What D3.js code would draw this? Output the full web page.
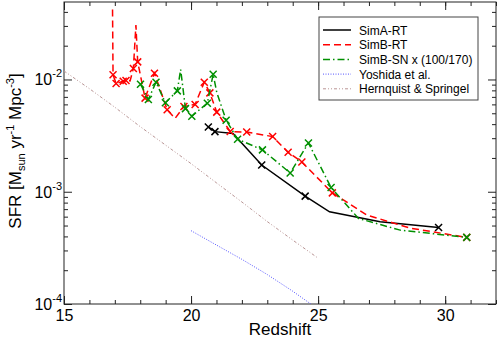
<!DOCTYPE html>
<html>
<head>
<meta charset="utf-8">
<script src="https://cdn.jsdelivr.net/npm/d3@7"></script>
<style>
  body { margin: 0; background: #fff; }
  text { font-family: "Liberation Sans", Arial, sans-serif; }
</style>
</head>
<body>
<div id="plot"></div>
<script>
// values
var simA_z   = [20.68, 20.94, 21.65, 22.78, 24.49, 25.45, 27.44, 29.74];
var simA_sfr = [0.00378, 0.00343, 0.0033, 0.00173, 0.000914, 0.000662, 0.00054, 0.000481];
var simA_mark = [1, 1, 0, 1, 1, 0, 0, 1];

var simBRT_z   = [16.91, 16.93, 17.05, 17.33, 17.44, 17.6, 17.73, 17.83, 17.9, 18.19, 18.56, 19.06, 19.37,
                  19.72, 20.16, 20.52, 20.74, 21.01, 21.54, 22.19, 23.21, 23.82, 24.36, 25.56, 26.92, 28.62, 30.85];
var simBRT_sfr = [0.042, 0.0110, 0.0092, 0.00966, 0.0098, 0.0097, 0.01254, 0.0305, 0.01435, 0.00682, 0.01138, 0.00538, 0.0045,
                  0.00575, 0.00599, 0.00946, 0.0076, 0.00512, 0.00344, 0.0034, 0.0031, 0.00225, 0.00184, 0.000977, 0.00062, 0.000474, 0.000392];
var simBRT_mark = [0, 1, 1, 1, 1, 0, 1, 0, 1, 1, 1, 1, 0, 1, 1, 1, 1, 1, 1, 1, 1, 1, 1, 1, 0, 0, 1];

var simBSN_z   = [18.01, 18.32, 18.62, 18.99, 19.46, 19.59, 19.78, 20.03, 20.64, 20.87, 21.01, 21.38, 21.83,
                  22.81, 23.9, 24.62, 25.51, 26.59, 28.23, 30.85];
var simBSN_sfr = [0.00908, 0.00664, 0.00946, 0.0062, 0.00792, 0.01228, 0.0055, 0.00471, 0.00615, 0.01114, 0.0077, 0.00434, 0.00294,
                  0.00236, 0.00147, 0.00272, 0.00109, 0.000578, 0.000455, 0.000392];
var simBSN_mark = [1, 1, 1, 1, 1, 0, 1, 1, 1, 1, 0, 1, 1, 1, 1, 1, 1, 0, 0, 1];

var yoshida_z   = [20, 21, 22, 23, 24, 25];
var yoshida_sfr = [4.5e-4, 3.35e-4, 2.5e-4, 1.83e-4, 1.3e-4, 9.0e-5];

var hs_z   = [15, 16, 17, 18, 19, 20, 21, 22, 23, 24, 25];
var hs_sfr = [0.0119, 0.00828, 0.00566, 0.0038, 0.0026, 0.00178, 0.0012, 0.00081, 0.000542, 0.000371, 0.000256];

var xTicks = [15, 20, 25, 30];
var xMinor = d3.range(15, 33, 1);
var yExp = [-4, -3, -2];
var legendNames = ["SimA-RT", "SimB-RT", "SimB-SN x (100/170)", "Yoshida et al.", "Hernquist & Springel"];

// set the dimensions and margins of the graph
var margin = {top: 2, right: 2, bottom: 35, left: 64},
    width = 498 - margin.left - margin.right,
    height = 339 - margin.top - margin.bottom - 0;
height = 302;

var svg = d3.select("#plot")
  .append("svg")
    .attr("width", 498)
    .attr("height", 339)
  .append("g")
    .attr("transform", "translate(" + margin.left + "," + margin.top + ")");

var x = d3.scaleLinear().domain([15, 32]).range([0, width]);
var y = d3.scaleLog().domain([1e-4, 0.049]).range([height, 0]);

var yMinor = [];
[1e-4, 1e-3, 1e-2].forEach(function(d) {
  for (var k = 2; k <= 9; k++) if (d * k <= 0.049) yMinor.push(d * k);
});

// ticks, all pointing inward
function tickStyle(g) {
  g.select(".domain").remove();
  g.selectAll(".tick line").attr("stroke", "#222").attr("stroke-width", 1);
}
svg.append("g").attr("transform", "translate(0," + height + ")")
  .call(d3.axisBottom(x).tickValues(xMinor).tickSize(-4).tickFormat("")).call(tickStyle);
svg.append("g").attr("transform", "translate(0," + height + ")")
  .call(d3.axisBottom(x).tickValues(xTicks).tickSize(-8).tickPadding(6).tickFormat(d3.format("d")))
  .call(tickStyle)
  .selectAll("text").attr("font-size", 16).attr("fill", "#000");
svg.append("g")
  .call(d3.axisTop(x).tickValues(xMinor).tickSize(-4).tickFormat("")).call(tickStyle);
svg.append("g")
  .call(d3.axisTop(x).tickValues(xTicks).tickSize(-8).tickFormat("")).call(tickStyle);

svg.append("g").call(d3.axisLeft(y).tickValues(yMinor).tickSize(-4).tickFormat("")).call(tickStyle);
svg.append("g").call(d3.axisLeft(y).tickValues([1e-4, 1e-3, 1e-2]).tickSize(-8).tickFormat("")).call(tickStyle);
svg.append("g").attr("transform", "translate(" + width + ",0)")
  .call(d3.axisRight(y).tickValues(yMinor).tickSize(-4).tickFormat("")).call(tickStyle);
svg.append("g").attr("transform", "translate(" + width + ",0)")
  .call(d3.axisRight(y).tickValues([1e-4, 1e-3, 1e-2]).tickSize(-8).tickFormat("")).call(tickStyle);

// y tick labels 10^n
yExp.forEach(function(e) {
  var t = svg.append("text")
    .attr("x", -2)
    .attr("y", y(Math.pow(10, e)) + 6)
    .attr("text-anchor", "end")
    .attr("font-size", 16);
  t.append("tspan").text("10");
  t.append("tspan").attr("dy", -8).attr("font-size", 11).text(String(e));
});

// frame
svg.append("rect")
  .attr("width", width).attr("height", height)
  .attr("fill", "none").attr("stroke", "#222").attr("stroke-width", 1);

// axis titles
svg.append("text")
  .attr("x", width / 2).attr("y", height + 31)
  .attr("text-anchor", "middle").attr("font-size", 17)
  .text("Redshift");

var yl = svg.append("text")
  .attr("transform", "translate(" + (21 - margin.left) + "," + (height / 2 - 2) + ") rotate(-90)")
  .attr("text-anchor", "middle").attr("font-size", 17);
yl.append("tspan").text("SFR [M");
yl.append("tspan").attr("font-size", 11).attr("dy", 4).text("sun");
yl.append("tspan").attr("dy", -4).text(" yr");
yl.append("tspan").attr("font-size", 11).attr("dy", -7).text("-1");
yl.append("tspan").attr("dy", 7).text(" Mpc");
yl.append("tspan").attr("font-size", 11).attr("dy", -7).text("-3");
yl.append("tspan").attr("dy", 7).text("]");

// clip the curves to the plot box
svg.append("clipPath").attr("id", "clip")
  .append("rect").attr("width", width).attr("height", height);
var plot = svg.append("g").attr("clip-path", "url(#clip)");

var line = d3.line()
  .x(function(d) { return x(d[0]); })
  .y(function(d) { return y(d[1]); });

function pairs(zs, vs) {
  return zs.map(function(z, i) { return [z, vs[i]]; });
}

var series = [
  {z: hs_z, v: hs_sfr, color: "#b99595", dash: "3,2,1,2,1,2", w: 1},
  {z: yoshida_z, v: yoshida_sfr, color: "#5555ff", dash: "1,1.5", w: 1},
  {z: simA_z, v: simA_sfr, mark: simA_mark, color: "#000", dash: null, w: 1.5},
  {z: simBRT_z, v: simBRT_sfr, mark: simBRT_mark, color: "#ff0000", dash: "7,4", w: 1.5},
  {z: simBSN_z, v: simBSN_sfr, mark: simBSN_mark, color: "#009000", dash: "7,3,1.5,3", w: 1.5}
];

series.forEach(function(s) {
  plot.append("path")
    .datum(pairs(s.z, s.v))
    .attr("fill", "none")
    .attr("stroke", s.color)
    .attr("stroke-width", s.w)
    .attr("stroke-dasharray", s.dash)
    .attr("d", line);
  if (s.mark) {
    var pts = pairs(s.z, s.v).filter(function(d, i) { return s.mark[i]; });
    plot.selectAll(null).data(pts).enter().append("path")
      .attr("transform", function(d) { return "translate(" + x(d[0]) + "," + y(d[1]) + ")"; })
      .attr("d", "M-3.5,-3.5L3.5,3.5M-3.5,3.5L3.5,-3.5")
      .attr("stroke", s.color)
      .attr("stroke-width", 1.5)
      .attr("fill", "none");
  }
});

// legend
var legendStyle = [series[2], series[3], series[4], series[1], series[0]];
var lg = svg.append("g").attr("transform", "translate(" + (319 - margin.left) + "," + (17 - margin.top) + ")");
lg.append("rect")
  .attr("width", 159).attr("height", 83)
  .attr("fill", "#fff").attr("stroke", "#444").attr("stroke-width", 1);
legendNames.forEach(function(name, i) {
  var yy = 13 + i * 14.7;
  lg.append("line")
    .attr("x1", 4).attr("x2", 32).attr("y1", yy).attr("y2", yy)
    .attr("stroke", legendStyle[i].color)
    .attr("stroke-width", legendStyle[i].w)
    .attr("stroke-dasharray", legendStyle[i].dash);
  lg.append("text")
    .attr("x", 40).attr("y", yy + 4.5)
    .attr("font-size", 12)
    .text(name);
});
</script>
</body>
</html>
